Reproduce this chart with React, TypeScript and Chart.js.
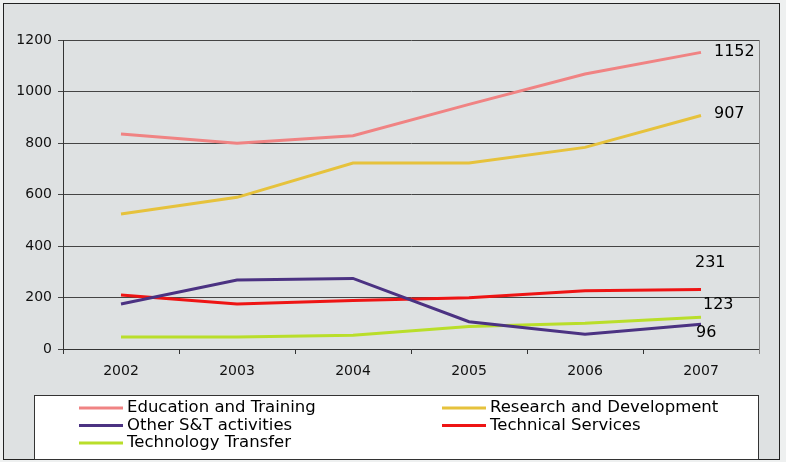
import React, { useEffect, useRef } from "react";
import { Chart, registerables } from "chart.js";

Chart.register(...registerables);

const years = ["2002", "2003", "2004", "2005", "2006", "2007"];
const seriesNames = [
  "Education and Training",
  "Research and Development",
  "Other S&T activities",
  "Technical Services",
  "Technology Transfer",
];
const educationTraining = [835, 799, 828, 950, 1068, 1152];
const researchDevelopment = [524, 589, 722, 722, 783, 907];
const otherSTActivities = [175, 268, 274, 106, 57, 96];
const technicalServices = [210, 175, 188, 199, 226, 231];
const technologyTransfer = [47, 47, 53, 87, 100, 123];
const yTicks = [0, 200, 400, 600, 800, 1000, 1200];

const colors = ["#f08383", "#e6c23c", "#4b3282", "#ee1414", "#b9de2a"];
// label offsets for the end value labels (dx, dy) relative to last point
const labelOffsets: [number, number][] = [
  [13, -1],
  [13, -2],
  [-5, 9],
  [-6, -27],
  [2, -12],
];

const FONT = '"DejaVu Sans", Verdana, sans-serif';

const framePlugin = {
  id: "frame",
  beforeDraw(chart: any) {
    const { ctx, width, height } = chart;
    ctx.save();
    ctx.fillStyle = "#eef0f0";
    ctx.fillRect(0, 0, width, height);
    ctx.fillStyle = "#dee1e2";
    ctx.fillRect(3, 3, 776, 456);
    ctx.strokeStyle = "#222";
    ctx.lineWidth = 1;
    ctx.strokeRect(3.5, 3.5, 776, 456);
    ctx.restore();
  },
  afterDraw(chart: any) {
    const { ctx, chartArea } = chart;
    ctx.save();
    ctx.strokeStyle = "#888";
    ctx.lineWidth = 1;
    ctx.beginPath();
    ctx.moveTo(Math.round(chartArea.right) + 0.5, chartArea.top);
    ctx.lineTo(Math.round(chartArea.right) + 0.5, chartArea.bottom + 5);
    ctx.stroke();
    ctx.fillStyle = "#ffffff";
    ctx.fillRect(34.5, 395.5, 724, 64);
    ctx.strokeStyle = "#333";
    ctx.strokeRect(34.5, 395.5, 724, 64);
    ctx.font = `16.5px ${FONT}`;
    ctx.textBaseline = "middle";
    ctx.textAlign = "left";
    chart.data.datasets.forEach((ds: any, i: number) => {
      const col = i % 2;
      const row = Math.floor(i / 2);
      const x0 = col ? 442 : 79;
      const y = 408 + row * 17.5;
      ctx.strokeStyle = ds.borderColor;
      ctx.lineWidth = 3;
      ctx.beginPath();
      ctx.moveTo(x0, y);
      ctx.lineTo(x0 + 44, y);
      ctx.stroke();
      ctx.fillStyle = "#000";
      ctx.fillText(ds.label, x0 + 48, y);
    });
    ctx.restore();
  },
};

const endLabelPlugin = {
  id: "endLabels",
  afterDatasetsDraw(chart: any) {
    const { ctx } = chart;
    ctx.save();
    ctx.font = `16px ${FONT}`;
    ctx.fillStyle = "#000";
    ctx.textAlign = "left";
    ctx.textBaseline = "middle";
    chart.data.datasets.forEach((ds: any, i: number) => {
      const meta = chart.getDatasetMeta(i);
      const last = meta.data[meta.data.length - 1];
      const val = ds.data[ds.data.length - 1];
      const [dx, dy] = labelOffsets[i];
      ctx.fillText(String(val), last.x + dx, last.y + dy);
    });
    ctx.restore();
  },
};

export default function App() {
  const ref = useRef<HTMLCanvasElement | null>(null);
  useEffect(() => {
    if (!ref.current) return;
    const allSeries = [
      educationTraining,
      researchDevelopment,
      otherSTActivities,
      technicalServices,
      technologyTransfer,
    ];
    const chart = new Chart(ref.current, {
      type: "line",
      data: {
        labels: years,
        datasets: allSeries.map((d, i) => ({
          label: seriesNames[i],
          data: d,
          borderColor: colors[i],
          backgroundColor: colors[i],
          borderWidth: 3,
          pointRadius: 0,
          tension: 0,
        })),
      },
      options: {
        responsive: false,
        animation: false,
        layout: { padding: { left: 0, top: 40, right: 27, bottom: 73 } },
        plugins: {
          legend: { display: false },
          tooltip: { enabled: false },
        },
        scales: {
          x: {
            offset: true,
            grid: {
              drawOnChartArea: false,
              drawTicks: true,
              tickLength: 5,
              color: "#333",
              offset: true,
            },
            border: { color: "#333", width: 1 },
            ticks: {
              color: "#111",
              font: { family: FONT, size: 14 },
              padding: 9,
              maxRotation: 0,
            },
            afterFit: (s: any) => {
              s.height = 40;
            },
          },
          y: {
            min: 0,
            max: 1200,
            afterBuildTicks: (s: any) => {
              s.ticks = yTicks.map((v) => ({ value: v }));
            },
            grid: { color: "#444", tickLength: 5, drawTicks: true },
            border: { color: "#333", width: 1 },
            ticks: {
              color: "#111",
              font: { family: FONT, size: 14 },
              padding: 6,
              callback: (v: any) => String(v),
            },
            afterFit: (s: any) => {
              s.width = 63;
            },
          },
        },
      },
      plugins: [framePlugin, endLabelPlugin],
    });
    return () => chart.destroy();
  }, []);
  return (
    <div style={{ position: "fixed", left: 0, top: 0, width: 786, height: 462 }}>
      <canvas ref={ref} width={786} height={462} />
    </div>
  );
}
